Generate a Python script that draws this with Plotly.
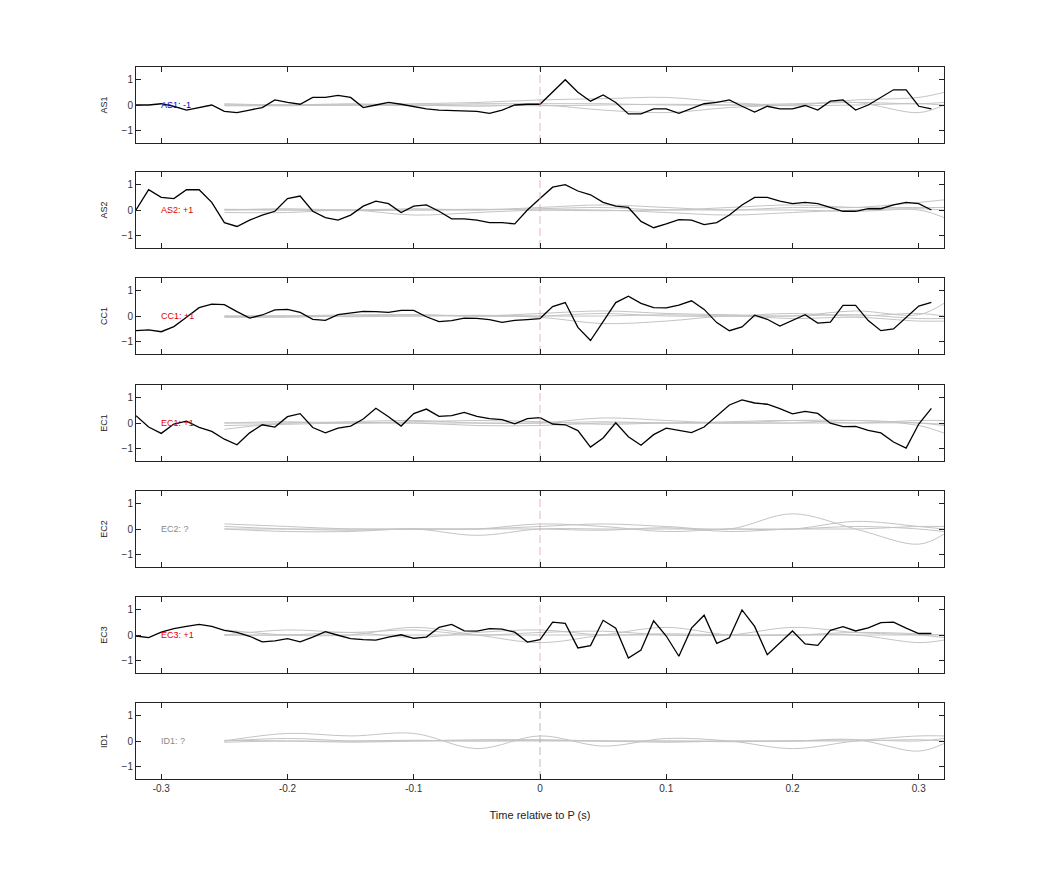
import numpy as np
import plotly.graph_objects as go
from plotly.subplots import make_subplots

stations = ["AS1", "AS2", "CC1", "EC1", "EC2", "EC3", "ID1"]
labels = ["AS1: -1", "AS2: +1", "CC1: +1", "EC1: +1", "EC2: ?", "EC3: +1", "ID1: ?"]
label_colors = ["#0000cc", "#e00000", "#e00000", "#e00000", "#888888", "#e00000", "#888888"]
zero_colors = ["#e3a5a5", "#e3a5a5", "#e3a5a5", "#e3a5a5", "#e3a5a5", "#e3a5a5", "#aaaaaa"]

t_black = np.round(np.arange(-0.32, 0.315, 0.01), 2)

black = {
    "AS1": [0, 0, 0.05, -0.05, -0.2, -0.1, 0, -0.25, -0.3, -0.2, -0.1, 0.2, 0.1, 0.03, 0.3, 0.3,
            0.38, 0.3, -0.1, 0, 0.1, 0.03, -0.05, -0.15, -0.2, -0.22, -0.25, -0.25, -0.33, -0.2, 0,
            0.03, 0.03,
            0.5, 1.0, 0.5, 0.15, 0.4, 0.1, -0.35, -0.35, -0.15, -0.15, -0.33, -0.15, 0.05, 0.1, 0.2,
            -0.05, -0.28, -0.05, -0.15, -0.15, -0.02, -0.2, 0.15, 0.2, -0.2, 0, 0.3, 0.6, 0.6,
            -0.05, -0.15],
    "AS2": [0, 0.8, 0.5, 0.45, 0.8, 0.8, 0.3, -0.5, -0.65, -0.4, -0.2, -0.05, 0.45, 0.55, -0.05,
            -0.3, -0.4, -0.2, 0.15, 0.35, 0.25, -0.1, 0.15, 0.2, -0.05, -0.35, -0.35, -0.4, -0.5,
            -0.5, -0.55, 0.0, 0.45,
            0.9, 1.0, 0.75, 0.6, 0.3, 0.15, 0.1, -0.45, -0.7, -0.55, -0.38, -0.4, -0.58, -0.5, -0.2,
            0.2, 0.5, 0.5, 0.35, 0.25, 0.3, 0.25, 0.1, -0.05, -0.05, 0.05, 0.05, 0.2, 0.3, 0.25, 0.0],
    "CC1": [-0.58, -0.55, -0.62, -0.42, -0.05, 0.33, 0.47, 0.45, 0.17, -0.08, 0.04, 0.24, 0.26,
            0.14, -0.13, -0.17, 0.05, 0.13, 0.18, 0.17, 0.14, 0.22, 0.22, -0.03, -0.22, -0.18, -0.08,
            -0.09, -0.14, -0.25, -0.17, -0.14, -0.1,
            0.37, 0.53, -0.45, -0.97, -0.22, 0.53, 0.78, 0.5, 0.33, 0.32, 0.43, 0.6, 0.26, -0.26,
            -0.58, -0.43, 0.03, -0.13, -0.4, -0.16, 0.05, -0.28, -0.24, 0.42, 0.42, -0.18, -0.58,
            -0.51, -0.07, 0.39, 0.54],
    "EC1": [0.29, -0.16, -0.41, -0.04, 0.07, -0.17, -0.33, -0.64, -0.86, -0.39, -0.07, -0.16, 0.25,
            0.37, -0.18, -0.39, -0.2, -0.12, 0.16, 0.58, 0.25, -0.12, 0.37, 0.55, 0.26, 0.29, 0.42,
            0.26, 0.17, 0.13, -0.03, 0.17, 0.21,
            -0.04, -0.07, -0.3, -0.95, -0.59, 0.01, -0.54, -0.88, -0.46, -0.2, -0.29, -0.38, -0.16,
            0.26, 0.71, 0.91, 0.79, 0.74, 0.57, 0.36, 0.46, 0.38, -0.01, -0.14, -0.13, -0.29, -0.39,
            -0.75, -0.99, -0.04, 0.58],
    "EC3": [-0.04, -0.1, 0.11, 0.25, 0.34, 0.42, 0.34, 0.18, 0.1, -0.05, -0.27, -0.23, -0.14, -0.27,
            -0.08, 0.13, -0.01, -0.14, -0.18, -0.2, -0.08, 0.01, -0.13, -0.08, 0.3, 0.42, 0.16, 0.15,
            0.25, 0.23, 0.11, -0.28, -0.18,
            0.51, 0.46, -0.51, -0.42, 0.58, 0.27, -0.91, -0.59, 0.56, -0.04, -0.84, 0.27, 0.78, -0.33,
            -0.11, 0.99, 0.34, -0.78, -0.3, 0.16, -0.35, -0.41, 0.18, 0.33, 0.16, 0.28, 0.49, 0.51,
            0.27, 0.06, 0.06],
}

t_gray = [-0.25, -0.2, -0.15, -0.1, -0.05, 0.0, 0.05, 0.1, 0.15, 0.2, 0.25, 0.3, 0.32]

gray = {
    "AS1": [[0, 0, 0, 0.05, 0.1, 0.2, 0.25, 0.3, 0.1, 0, 0.2, 0.3, 0.5],
            [0, 0, 0, 0, -0.05, 0, -0.2, -0.3, -0.1, 0, 0.1, -0.3, 0],
            [0.05, 0, 0.05, 0, 0.05, 0.05, 0.05, 0, 0, 0.05, 0.1, 0.05, 0.1],
            [-0.03, -0.03, 0, -0.03, 0, -0.03, 0, 0.03, 0, -0.03, 0, 0.05, 0]],
    "AS2": [[0, 0, 0, 0, 0, 0.1, 0.2, 0.1, 0, 0.1, 0.1, 0.3, 0.4],
            [-0.1, -0.1, 0, -0.2, -0.1, 0, 0, -0.1, -0.2, -0.1, 0, 0, -0.3],
            [0, 0.05, 0, 0.05, 0, 0.05, 0.1, 0, 0.1, 0.2, 0.1, 0.1, 0.1],
            [0.03, 0, -0.03, 0, 0.03, 0, -0.03, 0, 0, 0, -0.05, 0.05, 0]],
    "CC1": [[0, 0, 0.05, 0.05, 0, 0.1, 0.2, 0.1, 0.05, 0, 0.2, 0.05, 0.5],
            [-0.05, -0.05, 0, 0, 0, -0.05, -0.3, -0.2, 0, -0.1, -0.05, -0.2, -0.2],
            [0, 0, 0, 0.05, 0, 0, 0.1, 0, 0, 0.1, 0, 0.1, 0],
            [-0.03, 0, -0.03, 0, 0.03, 0, 0, 0.05, 0, 0, 0.05, -0.1, -0.1]],
    "EC1": [[0, 0, 0.05, 0.1, 0, 0, 0.2, 0.1, 0, 0.1, 0.1, 0, -0.1],
            [-0.25, 0, 0, 0, -0.1, -0.1, 0, 0, 0, 0, 0.1, -0.1, -0.4],
            [0, 0.05, 0, 0.05, 0.1, 0.05, -0.05, 0, 0, 0, 0, 0, -0.05],
            [-0.1, -0.05, 0, 0, 0, 0, 0.05, 0, 0.05, 0.1, 0, 0.1, 0.1]],
    "EC2": [[0.2, 0.1, 0, 0, 0, 0.1, 0.2, 0.1, 0, 0.6, 0, -0.6, -0.2],
            [0, -0.1, -0.1, 0, -0.25, 0, 0, 0, 0, 0, 0.3, 0.1, 0],
            [0, 0, 0, 0, 0, 0, -0.05, 0.05, -0.1, 0, 0, 0.1, 0.1],
            [0.1, 0, -0.05, 0, 0, 0.2, 0.1, -0.1, 0, 0, 0.1, 0, -0.1]],
    "EC3": [[0, 0.2, 0.1, 0.2, 0, 0.1, 0.15, 0, 0, 0.3, 0.1, 0, -0.1],
            [0.2, 0, 0, 0.3, 0, -0.3, 0, 0.3, 0, 0, 0, -0.3, -0.2],
            [0, 0, 0.1, -0.1, 0.1, 0.2, 0, 0.05, 0, 0, 0.1, 0.05, 0],
            [0, 0, 0, 0, 0, 0, 0, 0, 0, 0, 0, 0, 0]],
    "ID1": [[0, 0.3, 0.2, 0.3, -0.3, 0.2, -0.2, 0.1, 0, -0.3, 0, 0.2, 0.2],
            [0, 0.1, 0, 0, 0, 0, 0, 0, 0, 0, 0.05, -0.4, -0.1],
            [-0.05, 0, -0.05, 0, 0.05, 0.05, 0, -0.05, 0, 0, 0.05, 0, 0.1],
            [0.03, 0, 0, 0.03, 0, 0.03, 0, 0, -0.03, 0, 0, 0.05, 0]],
}

W, H = 1042, 875
# panel tops in page pixels, corrected for the page offset
tops = [59, 164, 270, 377, 483, 589, 695]
ph = 76
left, right = 128, 936

fig = make_subplots(rows=7, cols=1, shared_xaxes=True)

for i, st in enumerate(stations):
    r = i + 1
    for g in gray[st]:
        fig.add_trace(go.Scatter(x=t_gray, y=g, mode="lines", line=dict(color="#c4c4c4", width=1, shape="spline"),
                                 hoverinfo="skip", showlegend=False), row=r, col=1)
    if st in black:
        fig.add_trace(go.Scatter(x=t_black, y=black[st], mode="lines", line=dict(color="black", width=1.3),
                                 showlegend=False), row=r, col=1)
    fig.add_trace(go.Scatter(x=[0, 0], y=[-1.5, 1.5], mode="lines",
                             line=dict(color=zero_colors[i], width=0.8, dash="8px,4px"),
                             hoverinfo="skip", showlegend=False), row=r, col=1)
    fig.add_annotation(x=-0.302, y=0, text=labels[i], showarrow=False, xanchor="left",
                       font=dict(size=9, color=label_colors[i]), row=r, col=1)
    top = tops[i]
    fig.update_yaxes(domain=[1 - (top + ph) / H, 1 - top / H], range=[-1.5, 1.5],
                     tickvals=[-1, 0, 1], title=dict(text=st, font=dict(size=9, color="#222"), standoff=12),
                     row=r, col=1)
    fig.update_xaxes(range=[-0.32, 0.32], tickvals=[-0.3, -0.2, -0.1, 0, 0.1, 0.2, 0.3],
                     ticktext=["-0.3", "-0.2", "-0.1", "0", "0.1", "0.2", "0.3"],
                     showticklabels=(r == 7), row=r, col=1)

fig.update_xaxes(domain=[left / W, right / W], showline=True, linecolor="#222", linewidth=1, mirror="ticks",
                 ticks="inside", ticklen=5, tickcolor="#222", showgrid=False, zeroline=False,
                 tickfont=dict(size=10, color="#333"))
fig.update_yaxes(showline=True, linecolor="#222", linewidth=1, mirror="ticks", ticks="inside", ticklen=5,
                 tickcolor="#222", showgrid=False, zeroline=False, tickfont=dict(size=10, color="#333"))
fig.update_xaxes(title=dict(text="Time relative to P (s)", font=dict(size=11, color="#222"), standoff=18),
                 row=7, col=1)

fig.update_layout(width=W, height=H, margin=dict(l=0, r=0, t=0, b=0), paper_bgcolor="white",
                  plot_bgcolor="white", font=dict(family="Liberation Sans, Arial", color="#333"))

fig.write_html("out.html")
